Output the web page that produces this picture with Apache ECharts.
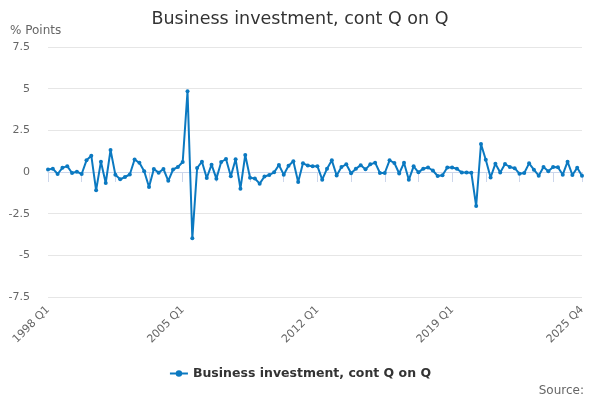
<!DOCTYPE html>
<html>
<head>
<meta charset="utf-8">
<script src="https://cdn.jsdelivr.net/npm/echarts@6/dist/echarts.min.js"></script>
<style>html,body{margin:0;padding:0;background:#fff}#c{width:600px;height:400px}</style>
</head>
<body>
<div id="c"></div>
<script>
const startYear = 1998;
const endYear = 2025;
const quarters = ["Q1", "Q2", "Q3", "Q4"];
const categories = [];
for (let y = startYear; y <= endYear; y++) {
  for (const q of quarters) categories.push(y + " " + q);
}
const seriesName = "Business investment, cont Q on Q";
const values = [
  0.15, 0.2, -0.12, 0.25, 0.35, -0.06, 0.02, -0.12,
  0.7, 0.98, -1.1, 0.62, -0.66, 1.32, -0.16, -0.44,
  -0.3, -0.15, 0.75, 0.55, 0.05, -0.9, 0.18, -0.04,
  0.18, -0.53, 0.15, 0.3, 0.6, 4.84, -3.98, 0.24,
  0.62, -0.36, 0.44, -0.4, 0.6, 0.78, -0.25, 0.77,
  -1.0, 1.02, -0.35, -0.39, -0.7, -0.27, -0.18, -0.02,
  0.42, -0.16, 0.37, 0.65, -0.6, 0.52, 0.39, 0.35,
  0.35, -0.46, 0.2, 0.7, -0.21, 0.3, 0.46, -0.08,
  0.2, 0.4, 0.16, 0.46, 0.56, -0.06, -0.06, 0.7,
  0.54, -0.09, 0.55, -0.47, 0.34, -0.02, 0.2, 0.27,
  0.09, -0.24, -0.2, 0.27, 0.27, 0.2, -0.03, -0.03,
  -0.05, -2.04, 1.68, 0.73, -0.33, 0.5, -0.03, 0.48,
  0.3, 0.23, -0.1, -0.06, 0.52, 0.14, -0.22, 0.3,
  0.05, 0.3, 0.29, -0.16, 0.62, -0.18, 0.25, -0.22
];
const yTicks = [-7.5, -5, -2.5, 0, 2.5, 5, 7.5];
const labelEvery = 28;
const tickEvery = 7;

const last = categories.length - 1;
const font = "DejaVu Sans";
const chart = echarts.init(document.getElementById("c"), null, {renderer: "canvas"});
chart.setOption({
  animation: false,
  backgroundColor: "#ffffff",
  title: [
    {text: "Business investment, cont Q on Q", left: "center", top: 5,
     textStyle: {fontFamily: font, fontSize: 17.5, fontWeight: "normal", color: "#333333"}},
    {text: "Source:", right: 11, top: 380,
     textStyle: {fontFamily: font, fontSize: 12, fontWeight: "normal", color: "#666666"}}
  ],
  legend: {
    bottom: 15, left: "center",
    itemWidth: 18, itemHeight: 8,
    textStyle: {fontFamily: font, fontSize: 12.5, fontWeight: "bold", color: "#333333"},
    data: [seriesName]
  },
  grid: {left: 48, right: 18, top: 47, bottom: 103, containLabel: false},
  xAxis: {
    type: "category",
    data: categories,
    boundaryGap: false,
    axisLine: {lineStyle: {color: "#ccd6eb"}},
    axisTick: {length: 10, lineStyle: {color: "#ccd6eb"},
      interval: (i) => i % tickEvery === 0 || i === last},
    axisLabel: {rotate: 45, color: "#666666", fontFamily: font, fontSize: 11, margin: 11,
      interval: (i) => i % labelEvery === 0 || i === last},
    splitLine: {show: false}
  },
  yAxis: {
    type: "value",
    name: "% Points",
    nameLocation: "end",
    nameGap: 10,
    nameTextStyle: {fontFamily: font, fontSize: 12, color: "#666666", align: "left", padding: [0, 0, 0, -38]},
    min: yTicks[0], max: yTicks[yTicks.length - 1], interval: 2.5,
    axisLine: {show: false},
    axisTick: {show: false},
    axisLabel: {color: "#666666", fontFamily: font, fontSize: 11, margin: 18},
    splitLine: {lineStyle: {color: "#e6e6e6"}}
  },
  series: [{
    name: seriesName,
    type: "line",
    data: values,
    color: "#0b79c1",
    lineStyle: {width: 2},
    symbol: "circle",
    symbolSize: 4,
    showSymbol: true,
    showAllSymbol: true
  }]
});
</script>
</body>
</html>
